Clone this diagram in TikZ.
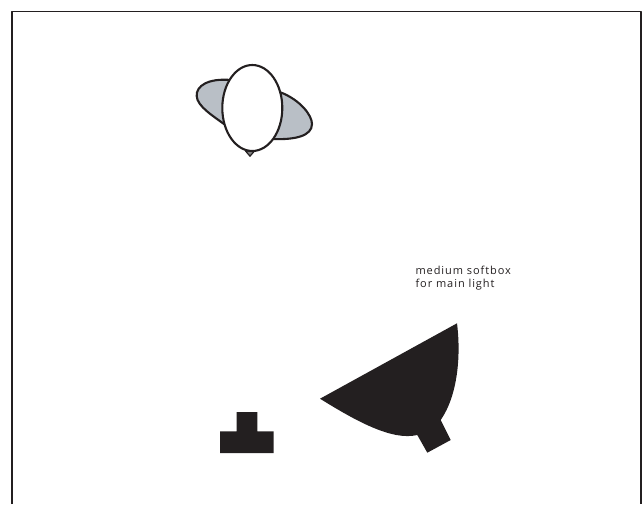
\documentclass[tikz,border=0pt]{standalone}
\usepackage{fontspec}
\setmainfont{Open Sans}
\definecolor{inkblack}{HTML}{231F20}
\definecolor{hairgrey}{HTML}{B9BFC6}
\begin{document}
\begin{tikzpicture}[x=1pt, y=-1pt, line width=2.1pt, line cap=round, line join=round]

  %% frame, open at the bottom
  \draw[inkblack, line width=1.4pt, line cap=butt] (11.8,504) -- (11.8,11.4) -- (641,11.4) -- (641,504);

  %% shoulders
  \draw[inkblack, fill=hairgrey] (231,80) .. controls (208,78) and (196,86) .. (196.7,96)
     .. controls (197,106) and (213,116) .. (224,124);
  \draw[inkblack, fill=hairgrey] (281,92.5) .. controls (300,100) and (312,115) .. (312,124)
     .. controls (312,136) and (295,140) .. (272,139);

  %% nose and head
  \draw[inkblack, fill=gray, line width=1.2pt] (245.5,151) -- (250,156.2) -- (254.5,151) -- cycle;
  \draw[inkblack, fill=white] (252.3,108) ellipse (30 and 43);

  %% softbox
  \fill[inkblack] (320,398.7) -- (457,323.3) .. controls (461,355) and (458,395) .. (440.7,420)
     -- (450.7,440) -- (427.3,452.7) -- (417.3,435)
     .. controls (392,441) and (356,421) .. cycle;

  %% stand
  \fill[inkblack] (236.7,412) -- (257.3,412) -- (257.3,431.3) -- (273.7,431.3) -- (273.7,453)
     -- (220,453) -- (220,431.3) -- (236.7,431.3) -- cycle;

  %% label
  \node[anchor=north west, inner sep=0pt, align=left, text=inkblack,
        font=\fontsize{11}{13}\selectfont\addfontfeatures{LetterSpace=8.5}] (softboxlabel) at (414.5,265.5)
        {medium softbox\\for main light};

  \pgfresetboundingbox
  \path[use as bounding box] (0,0) rectangle (643,504);
\end{tikzpicture}
\end{document}
